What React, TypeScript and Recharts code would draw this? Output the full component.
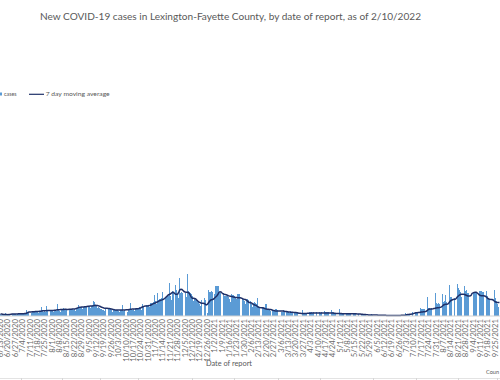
import React from 'react'
import { ComposedChart, Bar, Line, XAxis, YAxis } from 'recharts'

// one label per week (every 7th day, Saturdays)
const weekLabels = [
  '6/13/2020', '6/20/2020', '6/27/2020', '7/4/2020', '7/11/2020', '7/18/2020', '7/25/2020',
  '8/1/2020', '8/8/2020', '8/15/2020', '8/22/2020', '8/29/2020', '9/5/2020', '9/12/2020',
  '9/19/2020', '9/26/2020', '10/3/2020', '10/10/2020', '10/17/2020', '10/24/2020', '10/31/2020',
  '11/7/2020', '11/14/2020', '11/21/2020', '11/28/2020', '12/5/2020', '12/12/2020', '12/19/2020',
  '12/26/2020', '1/2/2021', '1/9/2021', '1/16/2021', '1/23/2021', '1/30/2021', '2/6/2021',
  '2/13/2021', '2/20/2021', '2/27/2021', '3/6/2021', '3/13/2021', '3/20/2021', '3/27/2021',
  '4/3/2021', '4/10/2021', '4/17/2021', '4/24/2021', '5/1/2021', '5/8/2021', '5/15/2021',
  '5/22/2021', '5/29/2021', '6/5/2021', '6/12/2021', '6/19/2021', '6/26/2021', '7/3/2021',
  '7/10/2021', '7/17/2021', '7/24/2021', '7/31/2021', '8/7/2021', '8/14/2021', '8/21/2021',
  '8/28/2021', '9/4/2021', '9/11/2021', '9/18/2021', '9/25/2021'
]

// daily new cases, one row per week (Sat..Fri)
const cases = [
  22, 15, 18, 25, 20, 28, 24,
  14, 10, 12, 18, 16, 20, 17,
  18, 14, 20, 24, 22, 26, 25,
  20, 18, 28, 30, 60, 32, 30,
  35, 30, 42, 45, 40, 48, 44,
  40, 35, 46, 50, 90, 48, 44,
  50, 38, 97, 55, 52, 60, 56,
  52, 40, 58, 62, 55, 120, 57,
  55, 45, 60, 65, 83, 58, 62,
  60, 48, 65, 70, 66, 72, 62,
  68, 55, 78, 85, 110, 80, 82,
  88, 70, 95, 100, 105, 98, 100,
  95, 85, 105, 110, 150, 145, 115,
  110, 80, 90, 78, 72, 70, 65,
  62, 50, 75, 80, 78, 72, 70,
  60, 45, 62, 68, 64, 60, 58,
  52, 40, 58, 62, 115, 55, 60,
  58, 45, 62, 66, 127, 64, 62,
  70, 55, 80, 85, 78, 82, 88,
  85, 65, 125, 105, 100, 110, 112,
  115, 90, 130, 135, 128, 140, 210,
  150, 120, 230, 165, 170, 175, 180,
  237, 150, 195, 200, 210, 205, 330,
  200, 160, 250, 240, 0, 310, 260,
  220, 180, 377, 230, 240, 235, 250,
  230, 190, 420, 250, 240, 235, 225,
  200, 150, 175, 160, 160, 165, 150,
  125, 105, 165, 168, 177, 160, 0,
  27, 260, 240, 240, 250, 245, 0,
  220, 300, 300, 305, 300, 230, 227,
  225, 228, 200, 205, 200, 210, 190,
  175, 140, 220, 215, 210, 205, 195,
  170, 220, 220, 225, 185, 175, 160,
  150, 120, 165, 170, 160, 0, 150,
  120, 90, 135, 140, 130, 125, 177,
  100, 85, 95, 90, 88, 80, 125,
  120, 70, 65, 60, 55, 0, 58,
  60, 50, 75, 70, 65, 0, 55,
  45, 40, 60, 55, 0, 50, 48,
  38, 30, 50, 45, 42, 0, 40,
  32, 28, 40, 38, 0, 0, 57,
  30, 28, 25, 27, 0, 0, 38,
  38, 36, 34, 40, 0, 0, 43,
  38, 36, 34, 36, 0, 0, 50,
  40, 38, 36, 38, 0, 0, 57,
  40, 36, 34, 32, 0, 0, 67,
  34, 32, 28, 26, 0, 0, 30,
  28, 26, 24, 22, 0, 0, 30,
  24, 22, 20, 18, 0, 0, 20,
  18, 16, 15, 14, 0, 0, 15,
  12, 10, 20, 8, 0, 0, 30,
  8, 7, 6, 7, 0, 0, 10,
  6, 5, 5, 6, 0, 0, 9,
  5, 4, 4, 5, 0, 0, 8,
  5, 4, 5, 6, 0, 0, 33,
  20, 18, 15, 20, 0, 0, 43,
  40, 38, 36, 40, 0, 0, 80,
  72, 70, 75, 68, 0, 0, 193,
  77, 80, 75, 78, 0, 0, 227,
  127, 125, 130, 120, 0, 0, 220,
  143, 150, 210, 140, 0, 0, 310,
  190, 195, 185, 180, 0, 0, 320,
  277, 260, 240, 190, 0, 0, 300,
  250, 260, 235, 230, 0, 0, 460,
  240, 245, 235, 240, 0, 0, 250,
  255, 250, 245, 240, 0, 0, 250,
  200, 180, 170, 160, 0, 0, 260,
  180, 150, 120, 90, 0
]

// 7 day moving average as drawn
const movingAvg = [
  20, 20, 18, 15, 14, 14, 14,
  13, 14, 15, 18, 20, 20, 21,
  20, 21, 21, 22, 22, 22, 23,
  23, 23, 24, 25, 30, 35, 40,
  40, 41, 42, 42, 43, 44, 45,
  45, 46, 47, 48, 50, 52, 53,
  53, 53, 54, 54, 55, 55, 55,
  55, 56, 57, 58, 60, 62, 63,
  63, 64, 65, 66, 66, 67, 67,
  66, 66, 67, 68, 68, 69, 70,
  70, 72, 76, 80, 84, 87, 88,
  89, 90, 91, 92, 93, 95, 97,
  98, 99, 100, 101, 103, 106, 107,
  106, 104, 101, 97, 92, 88, 84,
  80, 78, 77, 77, 76, 75, 73,
  70, 67, 64, 62, 61, 60, 60,
  59, 59, 60, 60, 60, 61, 61,
  62, 62, 63, 65, 67, 68, 69,
  70, 70, 71, 72, 73, 75, 78,
  82, 87, 92, 96, 99, 100, 101,
  102, 104, 108, 113, 118, 124, 128,
  132, 137, 142, 148, 154, 158, 161,
  165, 172, 180, 190, 200, 210, 215,
  220, 228, 235, 237, 225, 218, 217,
  220, 240, 262, 267, 265, 255, 245,
  240, 238, 237, 235, 225, 205, 185,
  178, 177, 175, 170, 160, 150, 142,
  135, 130, 128, 127, 125, 118, 110,
  115, 130, 145, 158, 162, 165, 170,
  180, 190, 200, 215, 235, 243, 240,
  230, 222, 217, 215, 212, 208, 203,
  200, 198, 196, 193, 190, 187, 185,
  184, 183, 183, 182, 180, 176, 170,
  167, 165, 160, 150, 140, 135, 133,
  130, 122, 115, 110, 108, 100, 92,
  86, 84, 83, 82, 80, 77, 72,
  70, 68, 67, 66, 65, 62, 58,
  55, 52, 51, 50, 50, 50, 50,
  50, 49, 49, 48, 46, 44, 42,
  40, 39, 38, 37, 37, 36, 35,
  34, 32, 30, 28, 27, 26, 26,
  26, 25, 25, 26, 27, 27, 28,
  28, 29, 29, 30, 30, 30, 30,
  30, 30, 31, 31, 31, 31, 31,
  31, 31, 31, 30, 30, 30, 30,
  29, 28, 27, 26, 25, 24, 24,
  24, 24, 23, 23, 23, 23, 23,
  23, 23, 23, 22, 22, 22, 22,
  22, 22, 21, 21, 20, 19, 18,
  17, 16, 15, 14, 13, 12, 11,
  10, 10, 10, 9, 9, 9, 9,
  9, 8, 8, 8, 7, 7, 7,
  7, 7, 6, 6, 6, 6, 6,
  6, 6, 6, 6, 6, 6, 6,
  6, 6, 7, 7, 7, 8, 10,
  13, 15, 16, 17, 18, 19, 22,
  26, 30, 32, 33, 34, 35, 38,
  40, 41, 42, 43, 45, 50, 60,
  67, 69, 70, 71, 72, 74, 78,
  80, 82, 83, 84, 86, 92, 100,
  110, 115, 117, 118, 120, 130, 145,
  155, 160, 165, 167, 168, 175, 190,
  200, 208, 215, 217, 217, 218, 215,
  210, 205, 200, 200, 200, 205, 225,
  232, 236, 237, 237, 230, 220, 210,
  205, 203, 203, 202, 200, 195, 185,
  175, 170, 167, 166, 165, 160, 150,
  142, 138, 136, 135, 134
]

const data = cases.map((v, i) => ({ day: i, cases: v, avg: movingAvg[i] }))

const grey = '#595959'
const font = 'Lato, "Open Sans", sans-serif'

// rotated date label, reads bottom to top like excel
const DateTick = ({ x, y, payload }: any) => {
  const label = weekLabels[payload.value / 7]
  if (!label) return null
  return (
    <text
      transform={`translate(${x},${y}) rotate(-90)`}
      textAnchor="end"
      dy="0.32em"
      fontSize={7.7}
      fontFamily={font}
      fill="#6a6a6a"
    >
      {label}
    </text>
  )
}

// spreadsheet column borders showing under the chart
const cellBorders = [21, 62, 100, 138, 192, 234, 278, 320, 373, 416, 458, 497]

export default function App() {
  return (
    <div style={{ position: 'fixed', left: 0, top: 0, width: 500, height: 380, overflow: 'hidden', background: '#fff' }}>
      <ComposedChart
        width={500}
        height={380}
        data={data}
        margin={{ top: 106, right: 0, left: 0, bottom: 0 }}
        barCategoryGap={0}
      >
        <XAxis
          dataKey="day"
          type="category"
          interval={6}
          height={64}
          tickLine={false}
          tickSize={0}
          tickMargin={3}
          axisLine={{ stroke: '#d4d4d4', strokeWidth: 1.2 }}
          tick={<DateTick />}
        />
        <YAxis hide domain={[0, 2100]} />
        <Bar
          dataKey="cases"
          fill="#5b9bd5"
          barSize={1.3}
          shapeRendering="crispEdges"
          isAnimationActive={false}
        />
        <Line
          type="linear"
          dataKey="avg"
          stroke="#1f3068"
          strokeWidth={1.5}
          dot={false}
          isAnimationActive={false}
        />
      </ComposedChart>

      <svg width={500} height={380} style={{ position: 'absolute', left: 0, top: 0, pointerEvents: 'none' }}>
        <text x={40} y={20} fontSize={8.6} fontFamily={font} fill={grey} textLength={381} lengthAdjust="spacingAndGlyphs">
          New COVID-19 cases in Lexington-Fayette County, by date of report, as of 2/10/2022
        </text>

        {/* legend */}
        <rect x={-1} y={92.5} width={3} height={3} fill="#5b9bd5" />
        <text x={4} y={96.3} fontSize={5.6} fontFamily={font} fill={grey} textLength={12.5} lengthAdjust="spacingAndGlyphs">
          cases
        </text>
        <line x1={29} x2={44} y1={94.3} y2={94.3} stroke="#1f3068" strokeWidth={1.2} />
        <text x={45.7} y={96.3} fontSize={5.6} fontFamily={font} fill={grey} textLength={64} lengthAdjust="spacingAndGlyphs">
          7 day moving average
        </text>

        <text x={206} y={366} fontSize={8} fontFamily={font} fill={grey} textLength={46} lengthAdjust="spacingAndGlyphs">
          Date of report
        </text>
        <text x={486} y={374} fontSize={6.5} fontFamily={font} fill={grey} textLength={13} lengthAdjust="spacingAndGlyphs">
          Coun
        </text>

        <line x1={0} x2={500} y1={378.5} y2={378.5} stroke="#e3e3e3" strokeWidth={1} />
        {cellBorders.map((cx) => (
          <line key={cx} x1={cx + 0.5} x2={cx + 0.5} y1={378} y2={380} stroke="#d6d6d6" strokeWidth={1} />
        ))}
      </svg>
    </div>
  )
}
